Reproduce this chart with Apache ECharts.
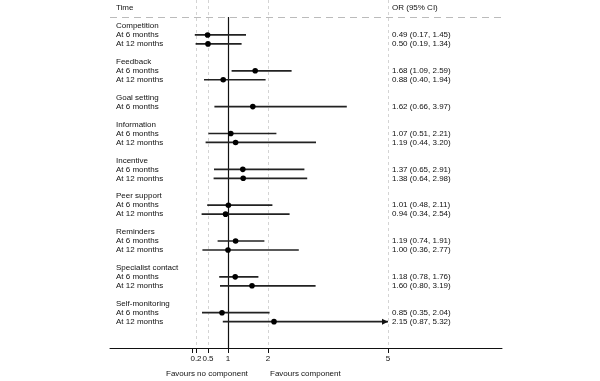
<!DOCTYPE html>
<html>
<head>
<meta charset="utf-8">
<script src="https://cdn.jsdelivr.net/npm/echarts@6/dist/echarts.min.js"></script>
<style>
  html, body { margin: 0; padding: 0; background: #fff; }
  #chart { width: 600px; height: 381px; }
</style>
</head>
<body>
<div id="chart"></div>
<script>
// one entry per row of the plot, top to bottom ('' = spacer row)
const rowLabels = [
  'Competition', 'At 6 months', 'At 12 months', '',
  'Feedback', 'At 6 months', 'At 12 months', '',
  'Goal setting', 'At 6 months', '',
  'Information', 'At 6 months', 'At 12 months', '',
  'Incentive', 'At 6 months', 'At 12 months', '',
  'Peer support', 'At 6 months', 'At 12 months', '',
  'Reminders', 'At 6 months', 'At 12 months', '',
  'Specialist contact', 'At 6 months', 'At 12 months', '',
  'Self-monitoring', 'At 6 months', 'At 12 months'
];
const orVals = [
  null, 0.49, 0.50, null,
  null, 1.68, 0.88, null,
  null, 1.62, null,
  null, 1.07, 1.19, null,
  null, 1.37, 1.38, null,
  null, 1.01, 0.94, null,
  null, 1.19, 1.00, null,
  null, 1.18, 1.60, null,
  null, 0.85, 2.15
];
const loVals = [
  null, 0.17, 0.19, null,
  null, 1.09, 0.40, null,
  null, 0.66, null,
  null, 0.51, 0.44, null,
  null, 0.65, 0.64, null,
  null, 0.48, 0.34, null,
  null, 0.74, 0.36, null,
  null, 0.78, 0.80, null,
  null, 0.35, 0.87
];
const hiVals = [
  null, 1.45, 1.34, null,
  null, 2.59, 1.94, null,
  null, 3.97, null,
  null, 2.21, 3.20, null,
  null, 2.91, 2.98, null,
  null, 2.11, 2.54, null,
  null, 1.91, 2.77, null,
  null, 1.76, 3.19, null,
  null, 2.04, 5.32
];
const tickValues = [0.1, 0.2, 0.5, 1, 2, 5];
const tickLabels = [0.2, 0.5, 1, 2, 5];
const guideLines = [0.2, 0.5, 2, 5];
const xClip = 5;

const FONT = '"Liberation Sans", Arial, sans-serif';
const TXT = '#111';
const yMin = -2.9, yMax = 35.94;

const estimates = [];
orVals.forEach((v, i) => {
  if (v != null) estimates.push([i, v, loVals[i], hiVals[i]]);
});

const labelRows = [-2];
rowLabels.forEach((l, i) => { if (l) labelRows.push(i); });
const ciRows = [-2];
orVals.forEach((v, i) => { if (v != null) ciRows.push(i); });

const fmt = v => v.toFixed(2);

const chart = echarts.init(document.getElementById('chart'));
chart.setOption({
  animation: false,
  textStyle: { fontFamily: FONT },
  grid: { left: 110, right: 98, top: 0, bottom: 33 },
  xAxis: {
    type: 'value',
    min: -1.95,
    max: 7.85,
    splitLine: { show: false },
    axisLine: { onZero: false, lineStyle: { color: '#111', width: 1 } },
    axisTick: { customValues: tickValues, length: 5, lineStyle: { color: '#111' } },
    axisLabel: { customValues: tickLabels, color: TXT, fontSize: 8, margin: 7, fontFamily: FONT }
  },
  yAxis: [
    {
      type: 'value',
      inverse: true,
      min: yMin,
      max: yMax,
      position: 'left',
      splitLine: { show: false },
      axisLine: { show: false },
      axisTick: { show: false },
      axisLabel: {
        customValues: labelRows,
        align: 'left',
        margin: -6,
        fontSize: 8,
        color: TXT,
        fontFamily: FONT,
        formatter: v => (v === -2 ? 'Time' : rowLabels[v])
      }
    },
    {
      type: 'value',
      inverse: true,
      min: yMin,
      max: yMax,
      position: 'right',
      splitLine: { show: false },
      axisLine: { show: false },
      axisTick: { show: false },
      axisLabel: {
        customValues: ciRows,
        align: 'left',
        margin: -110,
        fontSize: 8,
        color: TXT,
        fontFamily: FONT,
        formatter: v => (v === -2 ? 'OR (95% CI)' : `${fmt(orVals[v])} (${fmt(loVals[v])}, ${fmt(hiVals[v])})`)
      }
    }
  ],
  graphic: [
    { type: 'text', left: 166, top: 370, style: { text: 'Favours no component', fill: TXT, font: `8px ${FONT}` } },
    { type: 'text', left: 270, top: 370, style: { text: 'Favours component', fill: TXT, font: `8px ${FONT}` } }
  ],
  series: [
    {
      type: 'line',
      data: [],
      silent: true,
      z: 1,
      markLine: {
        symbol: 'none',
        silent: true,
        z: 1,
        label: { show: false },
        data: [
          ...guideLines.map(x => ({ xAxis: x, lineStyle: { color: '#d4d4d4', type: [3, 3], width: 1 } })),
          { yAxis: -1, lineStyle: { color: '#bbb', type: [7, 5], width: 1 } },
          [
            { coord: [1, -1], lineStyle: { color: '#111', type: 'solid', width: 1.2 } },
            { coord: [1, yMax] }
          ]
        ]
      }
    },
    {
      type: 'custom',
      clip: false,
      z: 10,
      data: estimates,
      renderItem: (params, api) => {
        const row = api.value(0);
        const or = api.value(1);
        const lo = api.value(2);
        const hi = api.value(3);
        const clipped = hi > xClip;
        const p0 = api.coord([lo, row]);
        const p1 = api.coord([clipped ? xClip : hi, row]);
        const pc = api.coord([or, row]);
        const children = [
          { type: 'line', shape: { x1: p0[0], y1: p0[1], x2: p1[0], y2: p1[1] }, style: { stroke: '#222', lineWidth: 1.7 } },
          { type: 'circle', shape: { cx: pc[0], cy: pc[1], r: 2.8 }, style: { fill: '#000' } }
        ];
        if (clipped) {
          children.push({
            type: 'polygon',
            shape: { points: [[p1[0], p1[1]], [p1[0] - 6, p1[1] - 3], [p1[0] - 6, p1[1] + 3]] },
            style: { fill: '#111' }
          });
        }
        return { type: 'group', children };
      }
    }
  ]
});
</script>
</body>
</html>
